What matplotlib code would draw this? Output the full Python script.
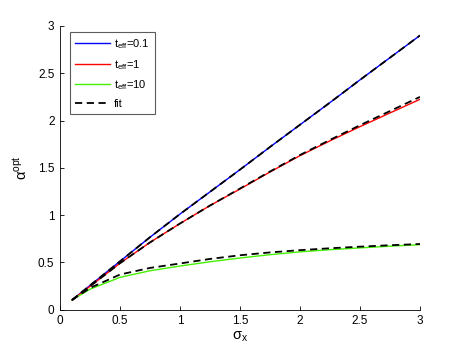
import numpy as np
import matplotlib
matplotlib.use("Agg")
import matplotlib.pyplot as plt

plt.rcParams['font.family'] = ['Liberation Sans', 'DejaVu Sans']
plt.rcParams['mathtext.fontset'] = 'custom'
plt.rcParams['mathtext.rm'] = 'Liberation Sans'
plt.rcParams['mathtext.it'] = 'Liberation Sans'
plt.rcParams['mathtext.default'] = 'regular'

# Data
x_vals = [0.1, 0.25, 0.5, 0.75, 1.0, 1.25, 1.5, 1.75, 2.0, 2.25, 2.5, 2.75, 3.0]
y_blue = [0.1, 0.255, 0.51, 0.765, 1.01, 1.245, 1.48, 1.72, 1.955, 2.19, 2.43, 2.665, 2.9]
y_blue_fit = [0.1, 0.255, 0.51, 0.765, 1.01, 1.245, 1.48, 1.72, 1.955, 2.19, 2.43, 2.665, 2.9]
y_red = [0.1, 0.245, 0.49, 0.71, 0.91, 1.10, 1.275, 1.455, 1.628, 1.785, 1.935, 2.08, 2.224]
y_red_fit = [0.1, 0.245, 0.49, 0.71, 0.91, 1.10, 1.28, 1.46, 1.635, 1.795, 1.95, 2.10, 2.25]
y_green = [0.1, 0.215, 0.34, 0.41, 0.46, 0.505, 0.545, 0.58, 0.61, 0.633, 0.652, 0.67, 0.686]
y_green_fit = [0.1, 0.228, 0.37, 0.44, 0.487, 0.535, 0.574, 0.604, 0.628, 0.648, 0.665, 0.68, 0.693]

labels = ['t$_{eff}$=0.1', 't$_{eff}$=1', 't$_{eff}$=10', 'fit']
xticks = [0, 0.5, 1, 1.5, 2, 2.5, 3]
yticks = [0, 0.5, 1, 1.5, 2, 2.5, 3]
xticklabels = ['0', '0.5', '1', '1.5', '2', '2.5', '3']
yticklabels = ['0', '0.5', '1', '1.5', '2', '2.5', '3']

fig = plt.figure(figsize=(4.63, 3.49), dpi=100)
ax = fig.add_axes([60/463, 1 - 309.5/349, 360/463, 283.5/349])

lw = 1.0
dash = (0, (4, 2.5))
ax.plot(x_vals, y_blue, color='#0000ff', lw=lw, label=labels[0])
ax.plot(x_vals, y_red, color='#ff0000', lw=lw, label=labels[1])
ax.plot(x_vals, y_green, color='#44f000', lw=lw, label=labels[2])
ax.plot(x_vals, y_blue_fit, color='black', lw=1.3, ls=dash, label=labels[3])
ax.plot(x_vals, y_red_fit, color='black', lw=1.3, ls=dash)
ax.plot(x_vals, y_green_fit, color='black', lw=1.3, ls=dash)

ax.set_xlim(0, 3)
ax.set_ylim(0, 3)
ax.set_xticks(xticks)
ax.set_xticklabels(xticklabels)
ax.set_yticks(yticks)
ax.set_yticklabels(yticklabels)
ax.tick_params(direction='in', length=3, width=0.6, labelsize=8.5, pad=4)
for s in ['top', 'right']:
    ax.spines[s].set_visible(False)
for s in ['left', 'bottom']:
    ax.spines[s].set_linewidth(0.6)

ax.set_xlabel('σ$_{x}$', fontsize=10.5, labelpad=2)
ax.set_ylabel('α$^{opt}$', fontsize=10.5, labelpad=6)

leg = ax.legend(loc='upper left', bbox_to_anchor=(0.027, 0.978), fontsize=8,
                frameon=True, fancybox=False, edgecolor='#333333',
                handlelength=3.2, handletextpad=0.35, labelspacing=0.6,
                borderpad=0.45, borderaxespad=0)
leg.get_frame().set_linewidth(0.8)

fig.savefig('out.png', dpi=100)
